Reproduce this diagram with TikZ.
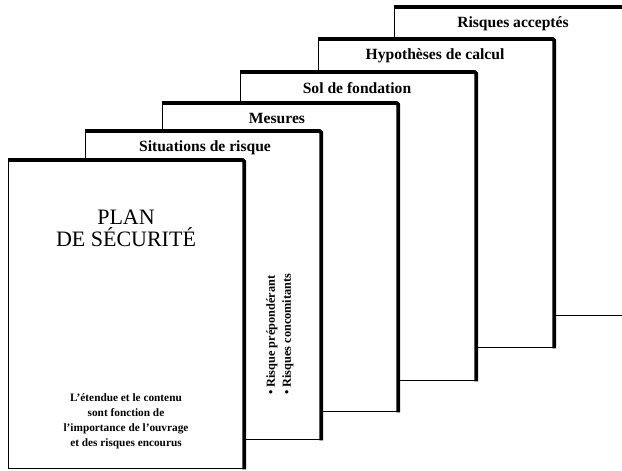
\documentclass[tikz,border=0pt]{standalone}
\usepackage{fontspec}
\setmainfont{Liberation Serif}
\begin{document}
\begin{tikzpicture}[x=1pt,y=-1pt,
  page/.style={draw=black, fill=white, line width=1.3pt, minimum width=235pt, minimum height=308pt, anchor=north west, inner sep=0pt},
  edge/.style={line width=3.8pt, line join=round, rounded corners=1.5pt},
  tab/.style={font=\bfseries\fontsize{15.6}{16}\selectfont, inner sep=0pt},
  body/.style={font=\bfseries\fontsize{11.3}{15}\selectfont, align=center, inner sep=0pt},
]
\useasboundingbox (0,0) rectangle (622,471);
\clip (0,0) rectangle (622,471);
% pages from back to front
\node[page] (p6) at (394,7) {};
\draw[edge] (p6.north west) -- (p6.north east) -- (p6.south east);
\node[tab] (t6) at (513,24) {Risques acceptés};

\node[page] (p5) at (318,39) {};
\draw[edge] (p5.north west) -- (p5.north east) -- (p5.south east);
\node[tab] (t5) at (435,56) {Hypothèses de calcul};

\node[page] (p4) at (240,72) {};
\draw[edge] (p4.north west) -- (p4.north east) -- (p4.south east);
\node[tab] (t4) at (357,88) {Sol de fondation};

\node[page] (p3) at (162,103) {};
\draw[edge] (p3.north west) -- (p3.north east) -- (p3.south east);
\node[tab] (t3) at (277,118) {Mesures};

\node[page] (p2) at (85,131) {};
\draw[edge] (p2.north west) -- (p2.north east) -- (p2.south east);
\node[tab] (t2) at (205,148) {Situations de risque};
\node[body, rotate=90, anchor=west, align=left, font=\bfseries\fontsize{12.3}{16}\selectfont] (bul) at (280,395)
  {• Risque prépondérant\\• Risques concomitants};

\node[page] (p1) at (8,160) {};
\draw[edge] (p1.north west) -- (p1.north east) -- (p1.south east);
\node[body, font=\mdseries\fontsize{22}{22}\selectfont] (title) at (126,228) {PLAN\\DE SÉCURITÉ};
\node[body] (note) at (126,421) {L'étendue et le contenu\\sont fonction de\\l'importance de l'ouvrage\\et des risques encourus};
\end{tikzpicture}
\end{document}
